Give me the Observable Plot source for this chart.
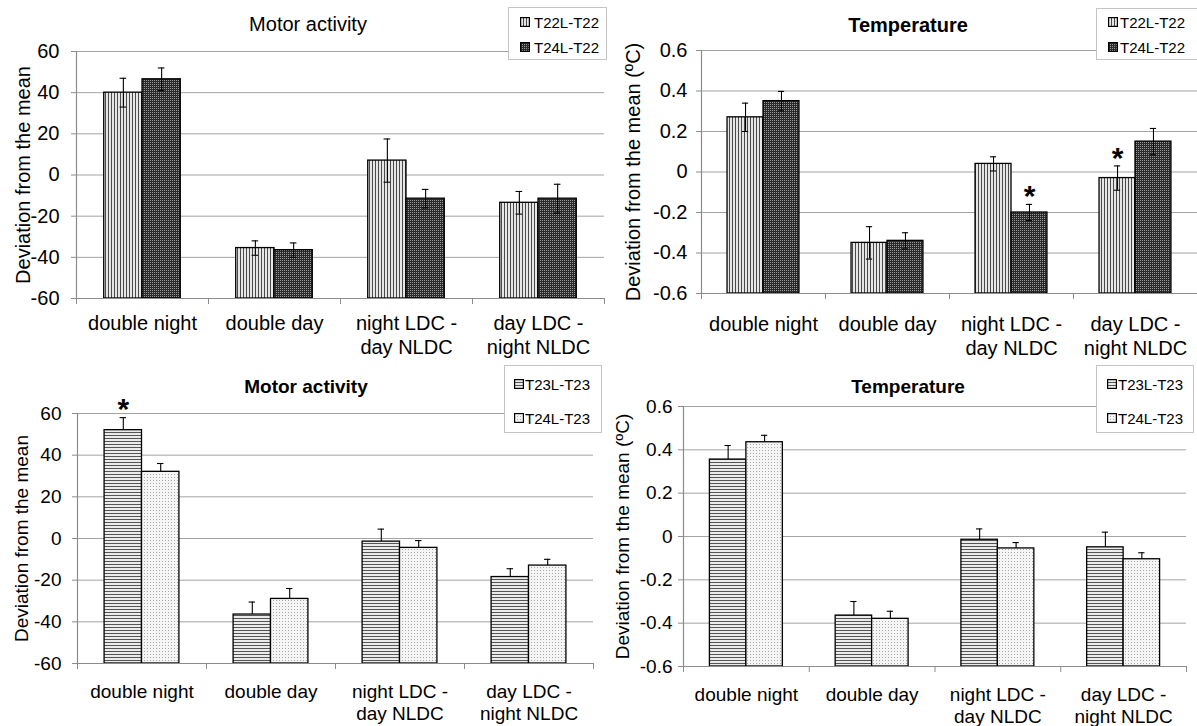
<!DOCTYPE html>
<html><head><meta charset="utf-8">
<script src="https://cdn.jsdelivr.net/npm/d3@7"></script>
<script src="https://cdn.jsdelivr.net/npm/@observablehq/plot@0.6"></script>
<style>
body{margin:0;background:#fff;font-family:"Liberation Sans",Arial,sans-serif;}
#root{position:relative;width:1197px;height:726px;overflow:hidden;background:#fff;}
.panel{position:absolute;}
.title{position:absolute;white-space:nowrap;transform:translate(-50%,-50%);color:#000;}
.legend{position:absolute;border:1px solid #c4c4c4;background:#fff;box-sizing:border-box;}
.item{position:absolute;white-space:nowrap;font-size:15px;color:#000;transform:translateY(-50%);}
.sw{position:absolute;transform:translateY(-50%);}
</style></head>
<body><div id="root">
<svg width="0" height="0" style="position:absolute">
<defs>
<pattern id="p-vert" patternUnits="userSpaceOnUse" width="3" height="3">
 <rect width="3" height="3" fill="#e6e6e6" shape-rendering="crispEdges"/><rect width="1" height="3" fill="#4a4a4a" shape-rendering="crispEdges"/>
</pattern>
<pattern id="p-dark" patternUnits="userSpaceOnUse" width="2" height="2">
 <rect width="2" height="2" fill="#2a2a2a" shape-rendering="crispEdges"/><rect width="1" height="1" fill="#9a9a9a" shape-rendering="crispEdges"/>
</pattern>
<pattern id="p-horiz" patternUnits="userSpaceOnUse" width="3" height="3">
 <rect width="3" height="3" fill="#ebebeb" shape-rendering="crispEdges"/><rect width="3" height="1" fill="#555555" shape-rendering="crispEdges"/>
</pattern>
<pattern id="p-dots" patternUnits="userSpaceOnUse" width="3" height="3">
 <rect width="3" height="3" fill="#f5f5f5" shape-rendering="crispEdges"/><rect width="1" height="1" fill="#a8a8a8" shape-rendering="crispEdges"/>
</pattern>
</defs></svg>
</div>
<script>
// ---------- data ----------
const categories = ["double night", "double day", "night LDC -\nday NLDC", "day LDC -\nnight NLDC"];
const seriesT22 = ["T22L-T22", "T24L-T22"];
const seriesT23 = ["T23L-T23", "T24L-T23"];
const motorTicks = [-60, -40, -20, 0, 20, 40, 60];
const tempTicks = [-0.6, -0.4, -0.2, 0, 0.2, 0.4, 0.6];

const motorT22_T22L = [40, -35.5, 7, -13.5];
const motorT22_T22L_err = [7, 3.5, 10.5, 5.5];
const motorT22_T24L = [46.5, -36.5, -11.5, -11.5];
const motorT22_T24L_err = [5.5, 3.5, 4.5, 7];

const tempT22_T22L = [0.27, -0.35, 0.04, -0.03];
const tempT22_T22L_err = [0.07, 0.08, 0.035, 0.06];
const tempT22_T24L = [0.35, -0.34, -0.2, 0.15];
const tempT22_T24L_err = [0.048, 0.04, 0.04, 0.065];

const motorT23_T23L = [52, -36.5, -1.5, -18.5];
const motorT23_T23L_err = [6, 6, 6, 4];
const motorT23_T24L = [32, -29, -4.5, -13];
const motorT23_T24L_err = [4, 5, 3.5, 3];

const tempT23_T23L = [0.355, -0.365, -0.015, -0.05];
const tempT23_T23L_err = [0.065, 0.065, 0.05, 0.07];
const tempT23_T24L = [0.435, -0.38, -0.055, -0.105];
const tempT23_T24L_err = [0.032, 0.035, 0.027, 0.03];

// significance marks: [category index, series index]
const starsTempT22 = [[2, 1], [3, 0]];
const starsMotorT23 = [[0, 0]];

// ---------- drawing ----------
const OFF = 0.21, BW = 0.29, CAP = 0.025;
const root = document.getElementById("root");
const FONT = '"Liberation Sans", Arial, sans-serif';

function panel(c) {
  const rows = [];
  c.series.forEach((s, j) => s.values.forEach((v, i) => rows.push({i, j, v, e: s.errors[i]})));
  const x1 = d => d.i + OFF + BW * d.j;
  const x2 = d => x1(d) + BW;
  const xc = d => x1(d) + BW / 2;
  const yMin = c.ticks[0], yMax = c.ticks[c.ticks.length - 1];
  const starRows = c.stars.map(([i, j]) => rows.find(r => r.i === i && r.j === j));
  const marks = [
    Plot.gridY(c.ticks, {stroke: "#a3a3a3", strokeOpacity: 1, strokeWidth: 1}),
    ...c.series.map((s, j) => Plot.rect(rows.filter(r => r.j === j), {
      x1, x2, y1: yMin, y2: "v", fill: s.fill, stroke: "#000", strokeWidth: 1.3
    })),
    Plot.ruleX(rows, {x: xc, y1: c.both ? (d => d.v - d.e) : "v", y2: d => d.v + d.e, stroke: "#000", strokeWidth: 1.1}),
    Plot.ruleY(rows, {y: d => d.v + d.e, x1: d => xc(d) - CAP, x2: d => xc(d) + CAP, stroke: "#000", strokeWidth: 1.1}),
    c.both ? Plot.ruleY(rows, {y: d => d.v - d.e, x1: d => xc(d) - CAP, x2: d => xc(d) + CAP, stroke: "#000", strokeWidth: 1.1}) : null,
    Plot.ruleY([yMin], {stroke: "#8c8c8c", strokeWidth: 1.2}),
    Plot.ruleX([0], {stroke: "#8c8c8c", strokeWidth: 1.2}),
    Plot.axisY(c.ticks, {tickSize: 5, tickPadding: c.tickPad, fontSize: c.fs, stroke: "#8c8c8c", fill: "#000",
      tickFormat: c.fmt, label: null}),
    Plot.axisX([0, 1, 2, 3, 4], {tickSize: 6, tickFormat: () => "", stroke: "#8c8c8c", label: null}),
    Plot.text(categories, {x: (d, i) => i + 0.5, text: d => d, frameAnchor: "bottom", lineAnchor: "top",
      dy: c.catDy, fontSize: c.fs, lineHeight: 1.2, fill: "#000"}),
    Plot.text([c.ylabel], {text: d => d, frameAnchor: "left", textAnchor: "middle", rotate: -90, dx: c.ylabelDx,
      fontSize: c.fs, fill: "#000"}),
    Plot.text(starRows, {x: xc, y: d => d.v + d.e, text: () => "*", fontSize: 30, fontWeight: "bold", dy: -8, fill: "#000"})
  ].filter(Boolean);
  const svg = Plot.plot({
    width: c.w, height: c.h,
    marginLeft: c.ml, marginRight: c.mr, marginTop: c.mt, marginBottom: c.mb,
    x: {type: "linear", domain: [0, 4], label: null},
    y: {type: "linear", domain: [yMin, yMax], label: null},
    style: {background: "transparent", overflow: "visible", fontFamily: FONT, color: "#000"},
    marks
  });
  const div = document.createElement("div");
  div.className = "panel";
  div.style.left = c.left + "px"; div.style.top = c.top + "px";
  div.style.width = c.w + "px"; div.style.height = c.h + "px";
  div.appendChild(svg);
  root.appendChild(div);

  // title
  const t = document.createElement("div");
  t.className = "title";
  t.textContent = c.title;
  t.style.left = c.titleX + "px"; t.style.top = c.titleY + "px";
  t.style.fontSize = c.titleFs + "px";
  t.style.fontWeight = c.titleBold ? "bold" : "normal";
  root.appendChild(t);

  // legend
  const L = c.legend;
  const box = document.createElement("div");
  box.className = "legend";
  Object.assign(box.style, {left: L.x + "px", top: L.y + "px", width: L.w + "px", height: L.h + "px"});
  c.series.forEach((s, j) => {
    const sw = document.createElementNS("http://www.w3.org/2000/svg", "svg");
    sw.setAttribute("width", 10); sw.setAttribute("height", 10);
    sw.setAttribute("class", "sw");
    sw.style.left = L.swx + "px"; sw.style.top = L.items[j] + "px";
    sw.innerHTML = `<rect x="0.5" y="0.5" width="9" height="9" fill="${s.fill}" stroke="#000" stroke-width="1.4"/>`;
    box.appendChild(sw);
    const it = document.createElement("div");
    it.className = "item";
    it.textContent = s.name;
    it.style.left = L.tx + "px"; it.style.top = L.items[j] + "px";
    box.appendChild(it);
  });
  root.appendChild(box);
}

const fmtMotor = d => String(d);
const fmtTemp = d => d === 0 ? "0" : d.toFixed(1);

panel({
  left: 0, top: 0, w: 606, h: 360, ml: 76, mr: 2, mt: 51, mb: 62,
  ticks: motorTicks, fmt: fmtMotor, tickPad: 12, fs: 20, catDy: 14, ylabelDx: -53,
  ylabel: "Deviation from the mean", both: true, stars: [],
  series: [
    {name: seriesT22[0], values: motorT22_T22L, errors: motorT22_T22L_err, fill: "url(#p-vert)"},
    {name: seriesT22[1], values: motorT22_T24L, errors: motorT22_T24L_err, fill: "url(#p-dark)"}
  ],
  title: "Motor activity", titleX: 308, titleY: 24, titleFs: 20, titleBold: false,
  legend: {x: 508, y: 7, w: 99, h: 53, items: [14, 39], swx: 11, tx: 25}
});

panel({
  left: 600, top: 0, w: 597, h: 360, ml: 101, mr: 0, mt: 50, mb: 67,
  ticks: tempTicks, fmt: fmtTemp, tickPad: 9, fs: 20, catDy: 20, ylabelDx: -68,
  ylabel: "Deviation from the mean (ºC)", both: true, stars: starsTempT22,
  series: [
    {name: seriesT22[0], values: tempT22_T22L, errors: tempT22_T22L_err, fill: "url(#p-vert)"},
    {name: seriesT22[1], values: tempT22_T24L, errors: tempT22_T24L_err, fill: "url(#p-dark)"}
  ],
  title: "Temperature", titleX: 908, titleY: 25, titleFs: 20, titleBold: true,
  legend: {x: 1096, y: 8, w: 103, h: 52, items: [13, 38], swx: 11, tx: 23}
});

panel({
  left: 0, top: 360, w: 600, h: 366, ml: 77, mr: 7, mt: 53, mb: 63,
  ticks: motorTicks, fmt: fmtMotor, tickPad: 11, fs: 19, catDy: 18, ylabelDx: -56,
  ylabel: "Deviation from the mean", both: false, stars: starsMotorT23,
  series: [
    {name: seriesT23[0], values: motorT23_T23L, errors: motorT23_T23L_err, fill: "url(#p-horiz)"},
    {name: seriesT23[1], values: motorT23_T24L, errors: motorT23_T24L_err, fill: "url(#p-dots)"}
  ],
  title: "Motor activity", titleX: 306, titleY: 387, titleFs: 19, titleBold: true,
  legend: {x: 504, y: 365, w: 98, h: 68, items: [18, 52], swx: 9, tx: 20}
});

panel({
  left: 600, top: 360, w: 597, h: 366, ml: 83, mr: 11, mt: 46, mb: 60,
  ticks: tempTicks, fmt: fmtTemp, tickPad: 6, fs: 19, catDy: 18, ylabelDx: -61,
  ylabel: "Deviation from the mean (ºC)", both: false, stars: [],
  series: [
    {name: seriesT23[0], values: tempT23_T23L, errors: tempT23_T23L_err, fill: "url(#p-horiz)"},
    {name: seriesT23[1], values: tempT23_T24L, errors: tempT23_T24L_err, fill: "url(#p-dots)"}
  ],
  title: "Temperature", titleX: 908, titleY: 387, titleFs: 19, titleBold: true,
  legend: {x: 1096, y: 365, w: 98, h: 68, items: [18, 52], swx: 10, tx: 21}
});
</script>
</body></html>
